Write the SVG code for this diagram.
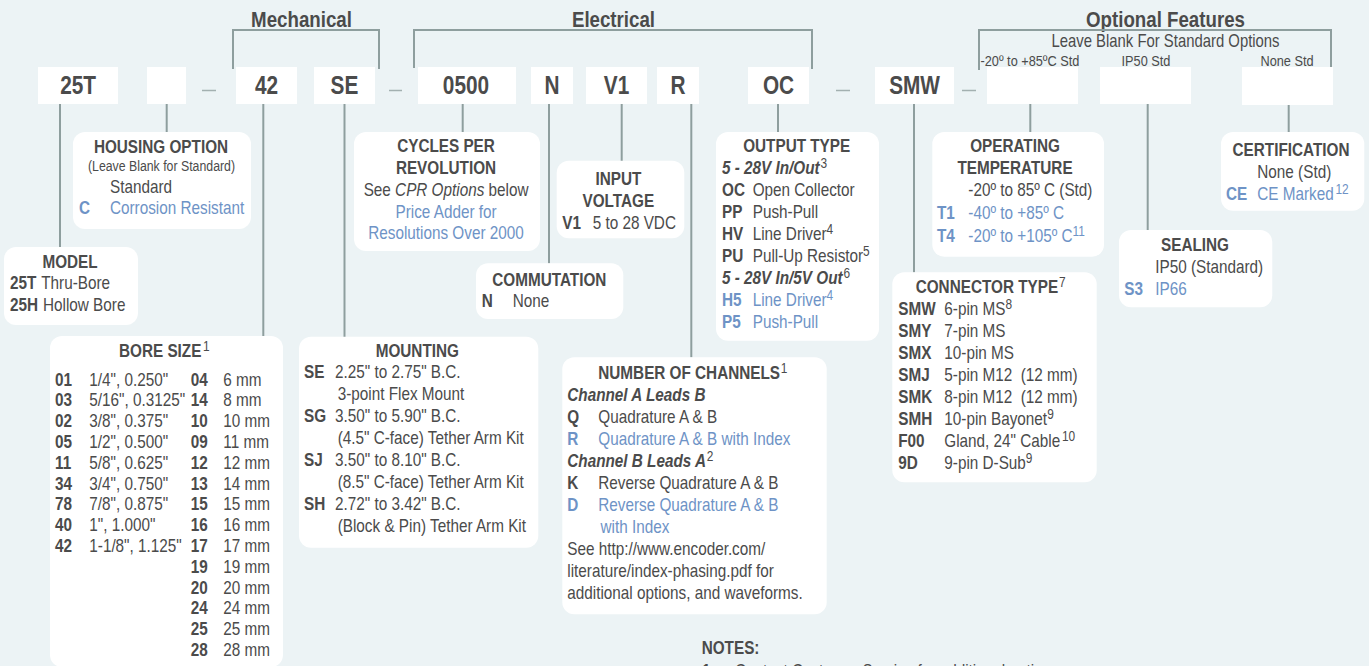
<svg xmlns="http://www.w3.org/2000/svg" width="1369" height="666" viewBox="0 0 1369 666">
<style>
.bg{fill:#ecf3f5}
.box{fill:#ffffff}
.ln{stroke:#8e9e9e;stroke-width:2;fill:none}
.dash{stroke:#a3b0b0;stroke-width:1.5}
text{font-family:"Liberation Sans",Arial,sans-serif;fill:#4b4b4b;font-size:18px;transform-box:fill-box;transform-origin:0 0;transform:scaleX(.85)}
.m{text-anchor:middle;transform-origin:50% 0}
.b{font-weight:bold}
.i{font-style:italic}
.h{font-size:22px;font-weight:bold}
.p{font-size:26px;font-weight:bold;transform:scaleX(.8)}
.bl{fill:#6e93c6}
.s{font-size:15px}
.sm{font-size:14.5px}
.sup{font-size:14px;font-weight:normal;font-style:normal}
</style>
<rect class="bg" x="0" y="0" width="1369" height="666"/>

<g id="headings">
<text class="h m" x="301.5" y="27">Mechanical</text>
<text class="h m" x="613.5" y="27">Electrical</text>
<text class="h m" x="1165.5" y="27">Optional Features</text>
<text class="m" x="1165.5" y="46.7" style="font-size:17.5px">Leave Blank For Standard Options</text>
<text class="s" x="980.5" y="66">-20º to +85ºC Std</text>
<text class="s m" x="1146" y="66">IP50 Std</text>
<text class="s m" x="1287" y="66">None Std</text>
</g>

<g id="connectors">
<path class="ln" d="M233,69 V30 H379 V69"/>
<path class="ln" d="M414,68 V30 H812 V69"/>
<path class="ln" d="M979,70 V30 H1331 V67"/>
<line class="ln" x1="60" y1="104" x2="60" y2="247"/>
<line class="ln" x1="166.7" y1="104" x2="166.7" y2="132"/>
<line class="ln" x1="263.3" y1="104" x2="263.3" y2="336"/>
<line class="ln" x1="344.5" y1="104" x2="344.5" y2="337"/>
<line class="ln" x1="462.7" y1="104" x2="462.7" y2="132"/>
<line class="ln" x1="549" y1="104" x2="549" y2="263.5"/>
<line class="ln" x1="621.7" y1="104" x2="621.7" y2="161"/>
<line class="ln" x1="691.3" y1="104" x2="691.3" y2="357.5"/>
<line class="ln" x1="778" y1="104" x2="778" y2="132"/>
<line class="ln" x1="914" y1="104" x2="914" y2="272.5"/>
<line class="ln" x1="1030.3" y1="104" x2="1030.3" y2="132"/>
<line class="ln" x1="1147.7" y1="104" x2="1147.7" y2="230"/>
<line class="ln" x1="1288.7" y1="105" x2="1288.7" y2="132"/>
</g>

<g id="separators">
<line class="dash" x1="202" y1="90.5" x2="216" y2="90.5"/>
<line class="dash" x1="389" y1="90.5" x2="402" y2="90.5"/>
<line class="dash" x1="836" y1="90.5" x2="850" y2="90.5"/>
<line class="dash" x1="962" y1="90.5" x2="976" y2="90.5"/>
</g>

<g id="pn-25T"><rect class="box" x="38" y="67" width="80" height="37"/><text class="p m" x="78" y="94.5">25T</text></g>
<g id="pn-housing"><rect class="box" x="147" y="67" width="39" height="37"/></g>
<g id="pn-42"><rect class="box" x="236" y="67" width="61" height="37"/><text class="p m" x="266.5" y="94.5">42</text></g>
<g id="pn-SE"><rect class="box" x="314" y="67" width="61" height="37"/><text class="p m" x="344.5" y="94.5">SE</text></g>
<g id="pn-0500"><rect class="box" x="418" y="67" width="98" height="37"/><text class="p m" x="466" y="94.5">0500</text></g>
<g id="pn-N"><rect class="box" x="531" y="67" width="42" height="37"/><text class="p m" x="552" y="94.5">N</text></g>
<g id="pn-V1"><rect class="box" x="586" y="67" width="61" height="37"/><text class="p m" x="616.5" y="94.5">V1</text></g>
<g id="pn-R"><rect class="box" x="657" y="67" width="42" height="37"/><text class="p m" x="678" y="94.5">R</text></g>
<g id="pn-OC"><rect class="box" x="748" y="67" width="61" height="37"/><text class="p m" x="778.5" y="94.5">OC</text></g>
<g id="pn-SMW"><rect class="box" x="875" y="67" width="79" height="37"/><text class="p m" x="914.5" y="94.5">SMW</text></g>
<g id="pn-temp"><rect class="box" x="987" y="67" width="91" height="37"/></g>
<g id="pn-seal"><rect class="box" x="1100" y="67" width="91" height="37"/></g>
<g id="pn-cert"><rect class="box" x="1242" y="67" width="91" height="38"/></g>

<g id="housing-option">
<rect class="box" x="73" y="132" width="178" height="97" rx="12"/>
<text class="b m" x="161" y="152.7">HOUSING OPTION</text>
<text class="sm m" x="161.5" y="171.5">(Leave Blank for Standard)</text>
<text x="110" y="192.7">Standard</text>
<text class="b bl" x="79" y="214.3">C</text>
<text class="bl" x="110" y="214.3">Corrosion Resistant</text>
</g>

<g id="model">
<rect class="box" x="4" y="247" width="134" height="78" rx="12"/>
<text class="b m" x="70" y="268.3">MODEL</text>
<text class="b" x="10" y="289">25T</text><text x="41.3" y="289">Thru-Bore</text>
<text class="b" x="10" y="310.7">25H</text><text x="43" y="310.7">Hollow Bore</text>
</g>

<g id="bore-size">
<rect class="box" x="50" y="336" width="233" height="331" rx="12"/>
<text class="b" x="119" y="356.7">BORE SIZE<tspan class="sup" dx="2" dy="-6">1</tspan></text>
<text class="b" x="55" y="385.7">01</text><text x="89.3" y="385.7">1/4", 0.250"</text>
<text class="b" x="55" y="406.5">03</text><text x="89.3" y="406.5">5/16", 0.3125"</text>
<text class="b" x="55" y="427.3">02</text><text x="89.3" y="427.3">3/8", 0.375"</text>
<text class="b" x="55" y="448.1">05</text><text x="89.3" y="448.1">1/2", 0.500"</text>
<text class="b" x="55" y="468.9">11</text><text x="89.3" y="468.9">5/8", 0.625"</text>
<text class="b" x="55" y="489.7">34</text><text x="89.3" y="489.7">3/4", 0.750"</text>
<text class="b" x="55" y="510.5">78</text><text x="89.3" y="510.5">7/8", 0.875"</text>
<text class="b" x="55" y="531.3">40</text><text x="89.3" y="531.3">1", 1.000"</text>
<text class="b" x="55" y="552.1">42</text><text x="89.3" y="552.1">1-1/8", 1.125"</text>
<text class="b" x="190.7" y="385.7">04</text><text x="223.3" y="385.7">6 mm</text>
<text class="b" x="190.7" y="406.5">14</text><text x="223.3" y="406.5">8 mm</text>
<text class="b" x="190.7" y="427.3">10</text><text x="223.3" y="427.3">10 mm</text>
<text class="b" x="190.7" y="448.1">09</text><text x="223.3" y="448.1">11 mm</text>
<text class="b" x="190.7" y="468.9">12</text><text x="223.3" y="468.9">12 mm</text>
<text class="b" x="190.7" y="489.7">13</text><text x="223.3" y="489.7">14 mm</text>
<text class="b" x="190.7" y="510.5">15</text><text x="223.3" y="510.5">15 mm</text>
<text class="b" x="190.7" y="531.3">16</text><text x="223.3" y="531.3">16 mm</text>
<text class="b" x="190.7" y="552.1">17</text><text x="223.3" y="552.1">17 mm</text>
<text class="b" x="190.7" y="572.9">19</text><text x="223.3" y="572.9">19 mm</text>
<text class="b" x="190.7" y="593.7">20</text><text x="223.3" y="593.7">20 mm</text>
<text class="b" x="190.7" y="614.5">24</text><text x="223.3" y="614.5">24 mm</text>
<text class="b" x="190.7" y="635.3">25</text><text x="223.3" y="635.3">25 mm</text>
<text class="b" x="190.7" y="656.1">28</text><text x="223.3" y="656.1">28 mm</text>
</g>

<g id="cycles-per-revolution">
<rect class="box" x="354" y="132" width="186" height="119" rx="12"/>
<text class="b m" x="446" y="152.3">CYCLES PER</text>
<text class="b m" x="446" y="174">REVOLUTION</text>
<text class="m" x="446" y="196">See <tspan class="i">CPR Options</tspan> below</text>
<text class="bl m" x="446" y="218">Price Adder for</text>
<text class="bl m" x="446" y="239.3">Resolutions Over 2000</text>
</g>

<g id="input-voltage">
<rect class="box" x="556.7" y="160.7" width="127.6" height="77.6" rx="12"/>
<text class="b m" x="618.3" y="185">INPUT</text>
<text class="b m" x="618.3" y="207.3">VOLTAGE</text>
<text class="b" x="562.3" y="229.3">V1</text><text x="592.7" y="229.3">5 to 28 VDC</text>
</g>

<g id="commutation">
<rect class="box" x="476" y="263.3" width="147.3" height="55.7" rx="12"/>
<text class="b m" x="549.3" y="285.7">COMMUTATION</text>
<text class="b" x="481.7" y="307.3">N</text><text x="512.7" y="307.3">None</text>
</g>

<g id="output-type">
<rect class="box" x="716" y="132" width="163" height="208.7" rx="12"/>
<text class="b m" x="796.7" y="152.3">OUTPUT TYPE</text>
<text class="b i" x="722" y="174">5 - 28V In/Out<tspan class="sup" dx="1" dy="-6">3</tspan></text>
<text class="b" x="722" y="196.3">OC</text><text x="752.7" y="196.3">Open Collector</text>
<text class="b" x="722" y="218.3">PP</text><text x="752.7" y="218.3">Push-Pull</text>
<text class="b" x="722" y="240.3">HV</text><text x="752.7" y="240.3">Line Driver<tspan class="sup" dy="-6">4</tspan></text>
<text class="b" x="722" y="262.3">PU</text><text x="752.7" y="262.3">Pull-Up Resistor<tspan class="sup" dy="-6">5</tspan></text>
<text class="b i" x="722" y="284.3">5 - 28V In/5V Out<tspan class="sup" dx="1" dy="-6">6</tspan></text>
<text class="b bl" x="722" y="306.3">H5</text><text class="bl" x="752.7" y="306.3">Line Driver<tspan class="sup" dy="-6">4</tspan></text>
<text class="b bl" x="722" y="328.3">P5</text><text class="bl" x="752.7" y="328.3">Push-Pull</text>
</g>

<g id="operating-temperature">
<rect class="box" x="932.3" y="132" width="171.7" height="124.7" rx="12"/>
<text class="b m" x="1015" y="152.3">OPERATING</text>
<text class="b m" x="1015" y="174">TEMPERATURE</text>
<text x="968.3" y="196">-20º to 85º C (Std)</text>
<text class="b bl" x="937" y="219">T1</text><text class="bl" x="968.3" y="219">-40º to +85º C</text>
<text class="b bl" x="937" y="241.8">T4</text><text class="bl" x="968.3" y="241.8">-20º to +105º C<tspan class="sup" dy="-6">11</tspan></text>
</g>

<g id="certification">
<rect class="box" x="1221" y="132" width="143.3" height="78.7" rx="12"/>
<text class="b m" x="1291" y="156.5">CERTIFICATION</text>
<text class="m" x="1294.3" y="178.3">None (Std)</text>
<text class="b bl" x="1226" y="200">CE</text><text class="bl" x="1257.3" y="200">CE Marked<tspan class="sup" dx="2" dy="-6">12</tspan></text>
</g>

<g id="sealing">
<rect class="box" x="1119" y="230" width="153.3" height="77.3" rx="12"/>
<text class="b m" x="1195" y="250.7">SEALING</text>
<text x="1155.3" y="272.7">IP50 (Standard)</text>
<text class="b bl" x="1124.3" y="294.7">S3</text><text class="bl" x="1155.3" y="294.7">IP66</text>
</g>

<g id="connector-type">
<rect class="box" x="892.3" y="272.3" width="204.4" height="210" rx="12"/>
<text class="b" x="915.7" y="292.7">CONNECTOR TYPE<tspan class="sup" dx="1" dy="-6">7</tspan></text>
<text class="b" x="898.3" y="315">SMW</text><text x="944.3" y="315">6-pin MS<tspan class="sup" dy="-6">8</tspan></text>
<text class="b" x="898.3" y="337">SMY</text><text x="944.3" y="337">7-pin MS</text>
<text class="b" x="898.3" y="359">SMX</text><text x="944.3" y="359">10-pin MS</text>
<text class="b" x="898.3" y="381">SMJ</text><text x="944.3" y="381" style="white-space:pre">5-pin M12  (12 mm)</text>
<text class="b" x="898.3" y="403">SMK</text><text x="944.3" y="403" style="white-space:pre">8-pin M12  (12 mm)</text>
<text class="b" x="898.3" y="425">SMH</text><text x="944.3" y="425">10-pin Bayonet<tspan class="sup" dy="-6">9</tspan></text>
<text class="b" x="898.3" y="447">F00</text><text x="944.3" y="447">Gland, 24" Cable<tspan class="sup" dx="2" dy="-6">10</tspan></text>
<text class="b" x="898.3" y="469">9D</text><text x="944.3" y="469">9-pin D-Sub<tspan class="sup" dy="-6">9</tspan></text>
</g>

<g id="mounting">
<rect class="box" x="299" y="336.7" width="239.3" height="211" rx="12"/>
<text class="b m" x="417.3" y="356.7">MOUNTING</text>
<text class="b" x="304" y="378.3">SE</text><text x="335" y="378.3">2.25" to 2.75" B.C.</text>
<text x="337.7" y="400.3">3-point Flex Mount</text>
<text class="b" x="304" y="422.3">SG</text><text x="335" y="422.3">3.50" to 5.90" B.C.</text>
<text x="337.7" y="444.3">(4.5" C-face) Tether Arm Kit</text>
<text class="b" x="304" y="466.3">SJ</text><text x="335" y="466.3">3.50" to 8.10" B.C.</text>
<text x="337.7" y="488.3">(8.5" C-face) Tether Arm Kit</text>
<text class="b" x="304" y="510.3">SH</text><text x="335" y="510.3">2.72" to 3.42" B.C.</text>
<text x="337.7" y="532.3">(Block &amp; Pin) Tether Arm Kit</text>
</g>

<g id="number-of-channels">
<rect class="box" x="562.3" y="357.3" width="264.4" height="257" rx="12"/>
<text class="b" x="598.3" y="379">NUMBER OF CHANNELS<tspan class="sup" dx="1" dy="-6">1</tspan></text>
<text class="b i" x="567.3" y="401">Channel A Leads B</text>
<text class="b" x="567.3" y="423">Q</text><text x="598.3" y="423">Quadrature A &amp; B</text>
<text class="b bl" x="567.3" y="445">R</text><text class="bl" x="598.3" y="445">Quadrature A &amp; B with Index</text>
<text class="b i" x="567.3" y="467">Channel B Leads A<tspan class="sup" dx="1" dy="-6">2</tspan></text>
<text class="b" x="567.3" y="489">K</text><text x="598.3" y="489">Reverse Quadrature A &amp; B</text>
<text class="b bl" x="567.3" y="511">D</text><text class="bl" x="598.3" y="511">Reverse Quadrature A &amp; B</text>
<text class="bl" x="600.7" y="533">with Index</text>
<text x="567.3" y="555">See http://www.encoder.com/</text>
<text x="567.3" y="577">literature/index-phasing.pdf for</text>
<text x="567.3" y="599">additional options, and waveforms.</text>
</g>

<g id="notes">
<text class="b" x="701.7" y="654.3">NOTES:</text>
<text class="b" x="702" y="677">1</text>
<text x="735" y="677">Contact Customer Service for additional options</text>
</g>
</svg>
